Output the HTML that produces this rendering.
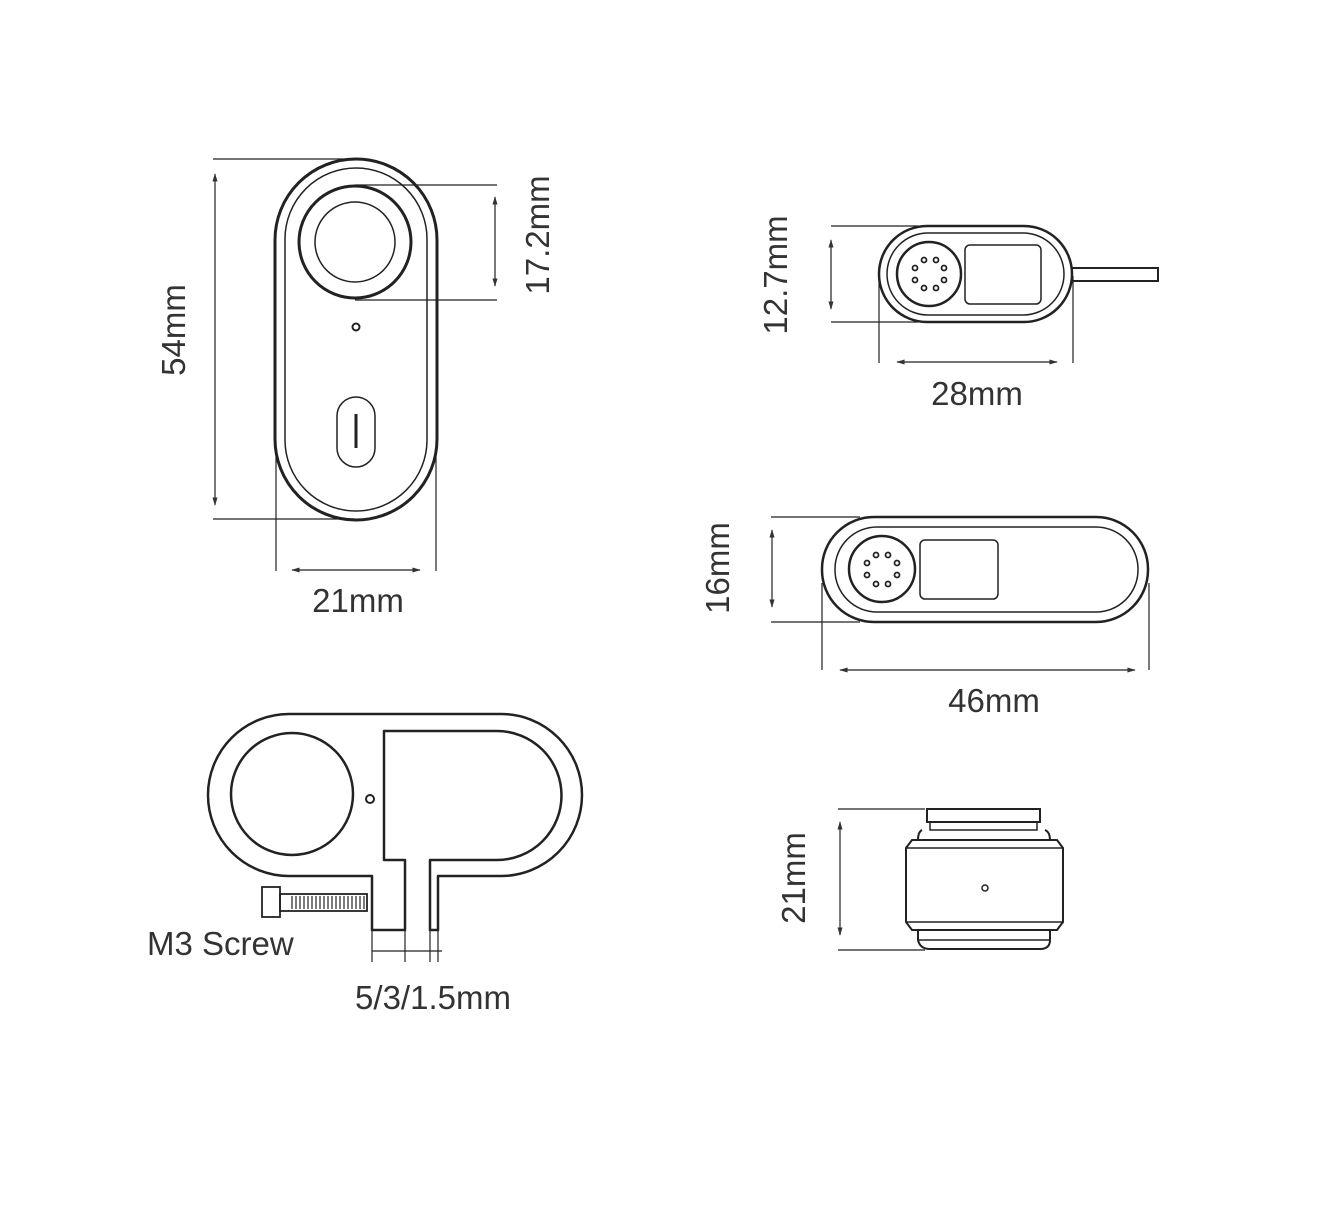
<!DOCTYPE html>
<html><head><style>
html,body{margin:0;padding:0;background:#fff;}
svg{display:block;}
text{font-family:"Liberation Sans",sans-serif;fill:#333;font-size:33px;}
</style></head><body>
<svg width="1320" height="1213" viewBox="0 0 1320 1213" xmlns="http://www.w3.org/2000/svg">
<defs>
<marker id="a" viewBox="0 0 10 10" refX="9" refY="5" markerWidth="9" markerHeight="7" orient="auto-start-reverse"><path d="M0,2 L10,5 L0,8 z" fill="#333"/></marker>
</defs>
<g fill="none" stroke="#222">
<rect x="275" y="159" width="162" height="361" rx="81" stroke-width="3"/>
<rect x="285" y="168" width="142" height="343" rx="71" stroke-width="1.5"/>
<circle cx="355" cy="242" r="56" stroke-width="3"/>
<circle cx="355" cy="242" r="40" stroke-width="1.5"/>
<circle cx="356" cy="327" r="3.5" stroke-width="2"/>
<rect x="337" y="397" width="38" height="70" rx="19" stroke-width="1.5"/>
<line x1="356" y1="414" x2="356" y2="448" stroke-width="3"/>
<g stroke-width="1.2">
<line x1="213" y1="159" x2="355" y2="159"/>
<line x1="213" y1="519" x2="355" y2="519"/>
<line x1="215" y1="174" x2="215" y2="505" marker-start="url(#a)" marker-end="url(#a)"/>
<line x1="355" y1="185" x2="497" y2="185"/>
<line x1="355" y1="300" x2="497" y2="300"/>
<line x1="495" y1="197" x2="495" y2="286" marker-start="url(#a)" marker-end="url(#a)"/>
<line x1="276" y1="455" x2="276" y2="571"/>
<line x1="436" y1="455" x2="436" y2="571"/>
<line x1="292" y1="570" x2="420" y2="570" marker-start="url(#a)" marker-end="url(#a)"/>
</g>
<rect x="879" y="226" width="193" height="96" rx="48" stroke-width="2.5"/>
<rect x="887" y="233" width="177" height="82" rx="41" stroke-width="1.5"/>
<circle cx="929" cy="274" r="32" stroke-width="2.5"/>
<rect x="965" y="245" width="76" height="59" rx="5" stroke-width="1.5"/>
<path d="M1072 268 H1158 V281 H1072" stroke-width="2"/>
<g stroke-width="1.2">
<line x1="831" y1="226" x2="918" y2="226"/>
<line x1="831" y1="322" x2="918" y2="322"/>
<line x1="831" y1="240" x2="831" y2="309" marker-start="url(#a)" marker-end="url(#a)"/>
<line x1="879" y1="276" x2="879" y2="363"/>
<line x1="1073" y1="276" x2="1073" y2="363"/>
<line x1="897" y1="362" x2="1057" y2="362" marker-start="url(#a)" marker-end="url(#a)"/>
</g>
<rect x="822" y="517" width="326" height="105" rx="52" stroke-width="2.5"/>
<rect x="835" y="527" width="303" height="85" rx="42" stroke-width="1.5"/>
<circle cx="882" cy="569" r="33" stroke-width="2.5"/>
<rect x="920" y="540" width="78" height="59" rx="5" stroke-width="1.5"/>
<g stroke-width="1.2">
<line x1="771" y1="517" x2="860" y2="517"/>
<line x1="771" y1="622" x2="860" y2="622"/>
<line x1="772" y1="530" x2="772" y2="607" marker-start="url(#a)" marker-end="url(#a)"/>
<line x1="822" y1="583" x2="822" y2="670"/>
<line x1="1149" y1="583" x2="1149" y2="670"/>
<line x1="840" y1="670" x2="1135" y2="670" marker-start="url(#a)" marker-end="url(#a)"/>
</g>
<path d="M372 930 V876 H289 A81 81 0 0 1 289 714 H501 A81 81 0 0 1 501 876 H438 V930 H430 V860 H497 A64.5 64.5 0 0 0 497 731 H384 V860 H405 V930 Z" stroke-width="2.5" stroke-linejoin="round"/>
<circle cx="292" cy="794" r="61" stroke-width="2.5"/>
<circle cx="370" cy="799" r="4" stroke-width="2"/>
<rect x="262" y="887" width="18" height="30" stroke-width="1.8"/>
<rect x="280" y="894" width="87" height="17" stroke-width="1.8"/>
<path d="M292 896 V909 M296 896 V909 M300 896 V909 M304 896 V909 M308 896 V909 M312 896 V909 M316 896 V909 M320 896 V909 M324 896 V909 M328 896 V909 M332 896 V909 M336 896 V909 M340 896 V909 M344 896 V909 M348 896 V909 M352 896 V909 M356 896 V909 M360 896 V909 M364 896 V909" stroke-width="1.2"/>
<g stroke-width="1.2">
<line x1="372" y1="930" x2="372" y2="962"/>
<line x1="405" y1="930" x2="405" y2="962"/>
<line x1="430" y1="930" x2="430" y2="962"/>
<line x1="438" y1="930" x2="438" y2="962"/>
<line x1="372" y1="951" x2="442" y2="951"/>
</g>
<rect x="927" y="809" width="113" height="13" stroke-width="2"/>
<path d="M930 822 V830 H1037 V822" stroke-width="1.5"/>
<path d="M922 830 Q918 832 918 840 H1050 Q1050 832 1045 830" stroke-width="2"/>
<path d="M912 840 L906 848 V922 L912 930 H1057 L1063 922 V848 L1057 840 Z" stroke-width="2"/>
<line x1="906" y1="848" x2="1063" y2="848" stroke-width="1.5"/>
<line x1="906" y1="922" x2="1063" y2="922" stroke-width="1.5"/>
<path d="M918 930 V940 Q920 949 930 949 H1040 Q1050 949 1050 940 V930" stroke-width="2"/>
<line x1="918" y1="940" x2="1050" y2="940" stroke-width="1.5"/>
<circle cx="985" cy="888" r="3" stroke-width="1.5"/>
<g stroke-width="1.2">
<line x1="838" y1="809" x2="925" y2="809"/>
<line x1="838" y1="950" x2="925" y2="950"/>
<line x1="840" y1="822" x2="840" y2="935" marker-start="url(#a)" marker-end="url(#a)"/>
</g>
</g>
<g fill="none" stroke="#222" stroke-width="1.8">
<circle cx="924" cy="260" r="2.5"/><circle cx="936" cy="260" r="2.5"/>
<circle cx="915" cy="268" r="2.5"/><circle cx="944" cy="268" r="2.5"/>
<circle cx="915" cy="280" r="2.5"/><circle cx="944" cy="280" r="2.5"/>
<circle cx="924" cy="288" r="2.5"/><circle cx="936" cy="288" r="2.5"/>
<circle cx="876" cy="555" r="2.5"/><circle cx="888" cy="555" r="2.5"/>
<circle cx="867" cy="563" r="2.5"/><circle cx="897" cy="563" r="2.5"/>
<circle cx="867" cy="575" r="2.5"/><circle cx="897" cy="575" r="2.5"/>
<circle cx="876" cy="584" r="2.5"/><circle cx="888" cy="584" r="2.5"/>
</g>
<text x="0" y="0" text-anchor="middle" transform="translate(185,330) rotate(-90)">54mm</text>
<text x="0" y="0" text-anchor="middle" transform="translate(549,235) rotate(-90)">17.2mm</text>
<text x="358" y="612" text-anchor="middle">21mm</text>
<text x="0" y="0" text-anchor="middle" transform="translate(787,275) rotate(-90)">12.7mm</text>
<text x="977" y="405" text-anchor="middle">28mm</text>
<text x="0" y="0" text-anchor="middle" transform="translate(729,568) rotate(-90)">16mm</text>
<text x="994" y="712" text-anchor="middle">46mm</text>
<text x="147" y="955">M3 Screw</text>
<text x="433" y="1009" text-anchor="middle">5/3/1.5mm</text>
<text x="0" y="0" text-anchor="middle" transform="translate(805,878) rotate(-90)">21mm</text>
</svg>
</body></html>
